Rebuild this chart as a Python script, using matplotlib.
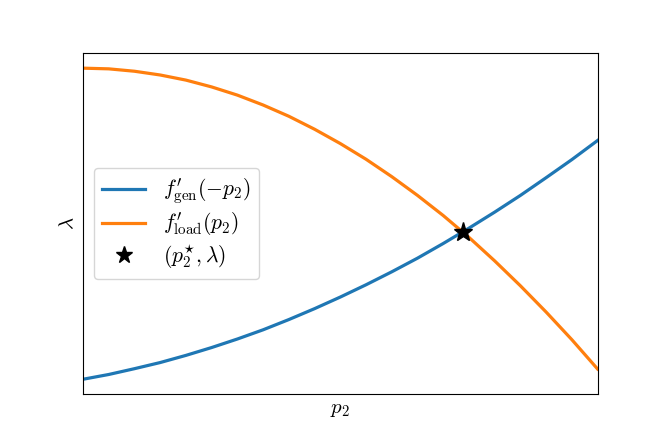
import matplotlib
matplotlib.use("Agg")
import matplotlib.pyplot as plt

plt.rcParams['mathtext.fontset'] = 'cm'
plt.rcParams['font.family'] = 'serif'
plt.rcParams['font.serif'] = ['DejaVu Serif']

# values (arbitrary units, no ticks shown)
p2 = [0.0, 0.05, 0.1, 0.15, 0.2, 0.25, 0.3, 0.35, 0.4, 0.45, 0.5,
      0.55, 0.6, 0.65, 0.7, 0.75, 0.8, 0.85, 0.9, 0.95, 1.0]
f_gen = [0.044, 0.058, 0.075, 0.093, 0.114, 0.137, 0.162, 0.189, 0.219, 0.251, 0.285,
         0.321, 0.359, 0.399, 0.442, 0.487, 0.534, 0.583, 0.635, 0.688, 0.744]
f_load = [0.956, 0.954, 0.947, 0.936, 0.921, 0.901, 0.877, 0.848, 0.815, 0.777, 0.735,
          0.689, 0.638, 0.583, 0.524, 0.460, 0.391, 0.318, 0.241, 0.160, 0.074]
p2_star = 0.738
lam_star = 0.476

fig, ax = plt.subplots(figsize=(6.64, 4.43), dpi=100)

ax.plot(p2, f_gen, color='tab:blue', lw=2.3, label=r"$f^{\prime}_{\mathrm{gen}}(-p_2)$")
ax.plot(p2, f_load, color='tab:orange', lw=2.3, label=r"$f^{\prime}_{\mathrm{load}}(p_2)$")
ax.plot(p2_star, lam_star, '*', color='black', ms=14, linestyle='none',
        label=r"$(p_2^{\star}, \lambda)$")

ax.set_xlim(0, 1)
ax.set_ylim(0, 1)
ax.set_xticks([])
ax.set_yticks([])
ax.set_xlabel(r"$p_2$", fontsize=15)
ax.set_ylabel(r"$\lambda$", fontsize=15)
ax.legend(loc='center left', fontsize=15.5, labelspacing=0.2, markerscale=0.9,
          handlelength=2.0, borderpad=0.4)

fig.savefig("out.png")
